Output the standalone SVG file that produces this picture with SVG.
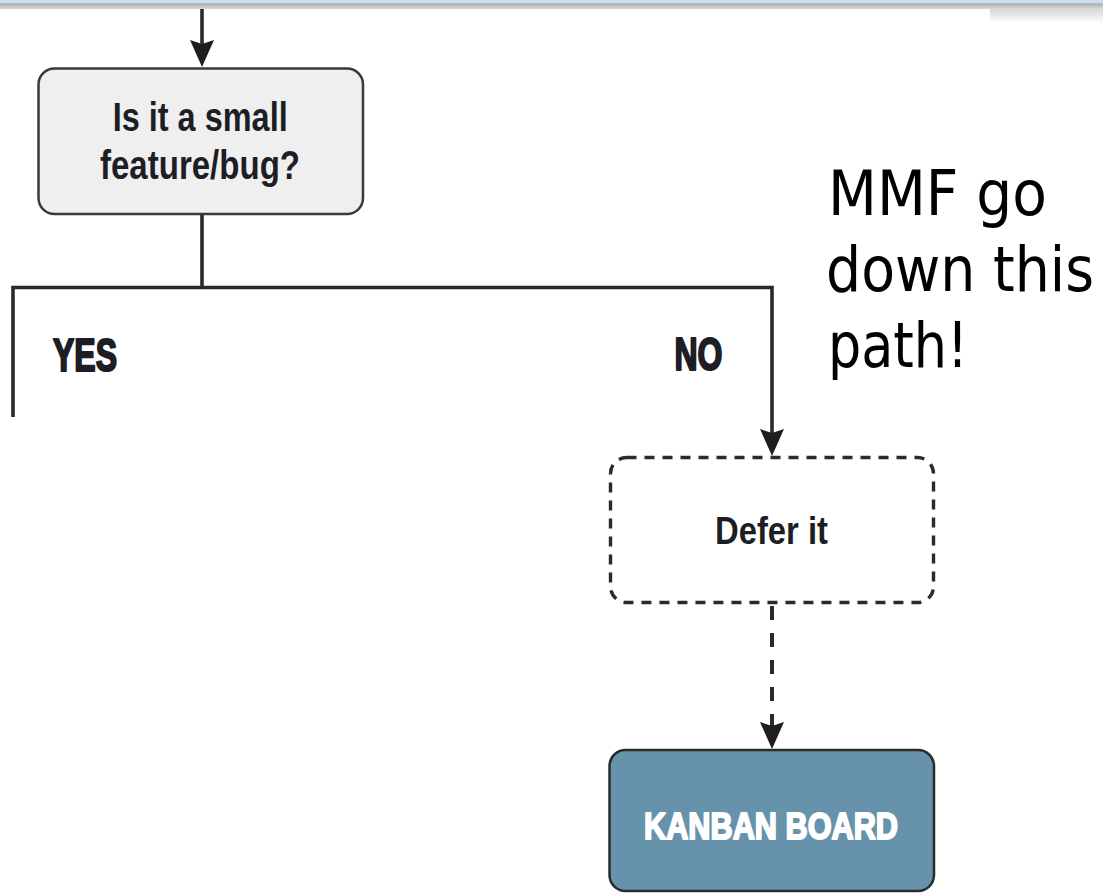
<svg xmlns="http://www.w3.org/2000/svg" width="1103" height="893" viewBox="0 0 1103 893">
  <defs>
    <linearGradient id="barGrad" x1="0" y1="0" x2="0" y2="1">
      <stop offset="0" stop-color="#a8a8a8"/>
      <stop offset="1" stop-color="#dedede"/>
    </linearGradient>
    <linearGradient id="cornerGrad" x1="0" y1="0" x2="0" y2="1">
      <stop offset="0" stop-color="#d6d6d6"/>
      <stop offset="1" stop-color="#ffffff"/>
    </linearGradient>
    <marker id="arrow" markerUnits="userSpaceOnUse" markerWidth="30" markerHeight="26" viewBox="0 -13 30 26" refX="18" refY="0" orient="auto">
      <path d="M27,0 L0,-12 L4,0 L0,12 Z" fill="#1e1e1e"/>
    </marker>
    <style>
      .line { fill: none; stroke: #2a2a2a; stroke-width: 3.6; stroke-linejoin: miter; }
      .dash { stroke-width: 4; stroke-dasharray: 14 13; }
      .box { stroke-width: 2.5; }
      .label { font-family: "Liberation Sans Narrow", "Liberation Sans", Arial, sans-serif; font-weight: bold; fill: #1d1d25; }
      .heavy { stroke: #1d1d25; stroke-width: 2.2; stroke-linejoin: round; }
      .note { font-family: "DejaVu Sans", Verdana, sans-serif; font-size: 62px; fill: #000; }
    </style>
  </defs>

  <rect x="0" y="0" width="1103" height="893" fill="#ffffff"/>
  <g id="topbar">
    <rect x="990" y="9" width="113" height="14" fill="url(#cornerGrad)"/>
    <rect x="0" y="0" width="1103" height="3.2" fill="#cddcf2"/>
    <rect x="0" y="3.2" width="1103" height="6" fill="url(#barGrad)"/>
  </g>

  <g id="connectors">
    <path class="line" d="M202,9 V58" marker-end="url(#arrow)"/>
    <path class="line" d="M202,214 V287.5"/>
    <path class="line" d="M13,417 V287.5 H772 V447" marker-end="url(#arrow)"/>
    <path class="line dash" d="M772,606 V740" marker-end="url(#arrow)"/>
  </g>

  <g id="node-question">
    <rect class="box" x="38.5" y="68.5" width="324.5" height="145.5" rx="16" fill="#efefef" stroke="#3a3a3a"/>
    <text class="label" x="112.7" y="131" font-size="40" textLength="175" lengthAdjust="spacingAndGlyphs">Is it a small</text>
    <text class="label" x="100" y="178.5" font-size="40" textLength="200" lengthAdjust="spacingAndGlyphs">feature/bug?</text>
  </g>

  <g id="label-yes">
    <text class="label heavy" x="53" y="370.7" font-size="46" textLength="64" lengthAdjust="spacingAndGlyphs">YES</text>
  </g>
  <g id="label-no">
    <text class="label heavy" x="674.5" y="370" font-size="46" textLength="48" lengthAdjust="spacingAndGlyphs">NO</text>
  </g>

  <g id="node-defer">
    <rect x="610.5" y="457.5" width="323" height="145" rx="16" fill="#ffffff" stroke="#2b2b2b" stroke-width="3.4" stroke-dasharray="10 8"/>
    <text class="label" x="715" y="544" font-size="38" textLength="113" lengthAdjust="spacingAndGlyphs">Defer it</text>
  </g>

  <g id="node-kanban">
    <rect class="box" x="609.5" y="750" width="324.5" height="141" rx="16" fill="#6692ab" stroke="#2b2b2b"/>
    <text class="label" x="644" y="839.3" font-size="37" textLength="254" lengthAdjust="spacingAndGlyphs" style="fill:#ffffff;stroke:#ffffff;stroke-width:2;stroke-linejoin:round">KANBAN BOARD</text>
  </g>

  <g id="note">
    <text class="note" x="828" y="215" textLength="219" lengthAdjust="spacingAndGlyphs">MMF go</text>
    <text class="note" x="826" y="291" textLength="268" lengthAdjust="spacingAndGlyphs">down this</text>
    <text class="note" x="828" y="367" textLength="140" lengthAdjust="spacingAndGlyphs">path!</text>
  </g>
</svg>
